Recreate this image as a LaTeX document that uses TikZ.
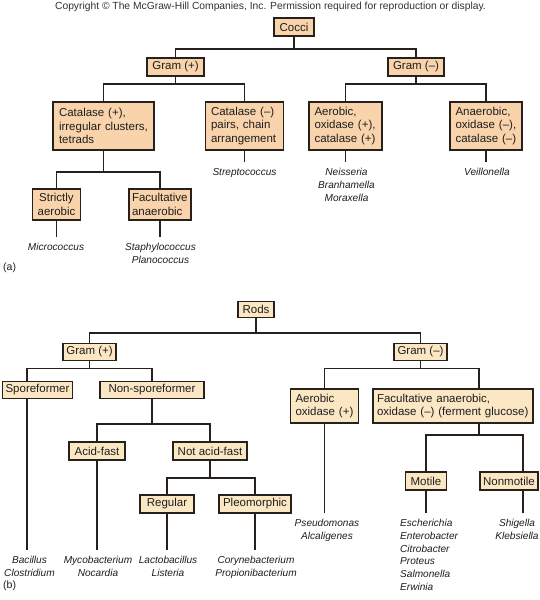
\documentclass[tikz,border=0pt]{standalone}
\usepackage{fontspec}
\setmainfont{Liberation Sans}
\definecolor{linec}{RGB}{40,32,26}
\definecolor{fillA}{RGB}{249,211,171}
\definecolor{fillB}{RGB}{252,231,197}
\definecolor{txtc}{RGB}{30,30,30}
\definecolor{cpc}{RGB}{50,50,50}
\newcommand{\bxfont}{\fontsize{11.5}{13.5}\selectfont}
\newcommand{\lffont}{\fontsize{10.1}{12.8}\selectfont\itshape}
\newcommand{\cpfont}{\fontsize{10.3}{12}\selectfont}
\newcommand{\lbfont}{\fontsize{10.5}{12}\selectfont}
\tikzset{
  ln/.style={draw=linec, line width=1.8pt},
  boxa/.style={draw=linec, line width=1.8pt, fill=fillA, font=\bxfont, text=txtc, inner xsep=5pt, inner ysep=2pt},
  boxb/.style={boxa, fill=fillB, inner xsep=3pt},
  lft/.style={align=left},
  leaf/.style={font=\lffont, text=txtc, align=center, inner xsep=0pt, inner ysep=6pt, anchor=north},
  partlbl/.style={font=\lbfont, text=txtc, anchor=west, inner sep=1pt}
}
\begin{document}
\begin{tikzpicture}[x=1pt,y=-1pt]
\useasboundingbox[fill=white] (0,0) rectangle (540,600);
\node[font=\cpfont, text=cpc, inner sep=0pt] (copy) at (270.5,7) {Copyright © The McGraw-Hill Companies, Inc. Permission required for reproduction or display.};

% ---------------- (a) Cocci ----------------
\node[boxa, minimum width=40pt, minimum height=18pt] (cocci) at (294,27) {Cocci};
\node[boxa, minimum width=53pt, minimum height=18pt] (gpa) at (175.5,67) {Gram (+)};
\node[boxa, minimum width=51pt, minimum height=18pt] (gma) at (416,67) {Gram (–)};
\node[boxa, lft, minimum width=101pt, minimum height=48pt, text width=89pt] (cp) at (103.5,126) {Catalase (+),\\irregular clusters,\\tetrads};
\node[boxa, lft, minimum width=78pt, minimum height=48pt, text width=67pt] (cm) at (244.5,126) {Catalase (–)\\pairs, chain\\arrangement};
\node[boxa, lft, minimum width=73pt, minimum height=48pt, text width=62pt] (aer) at (345.5,126) {Aerobic,\\oxidase (+),\\catalase (+)};
\node[boxa, lft, minimum width=72pt, minimum height=48pt, text width=61pt] (ana) at (486,126) {Anaerobic,\\oxidase (–),\\catalase (–)};
\node[boxa, align=center, minimum width=47pt, minimum height=31pt, text width=38pt] (sa) at (56.5,204.5) {Strictly\\aerobic};
\node[boxa, lft, minimum width=62pt, minimum height=31pt, text width=56pt, inner xsep=3pt] (fa) at (160,204.5) {Facultative\\anaerobic};

\node[leaf] (micro) at (56,237) {Micrococcus};
\node[leaf] (staph) at (160.5,237) {Staphylococcus\\Planococcus};
\node[leaf] (strep) at (244.5,162) {Streptococcus};
\node[leaf] (neis) at (346.5,162) {Neisseria\\Branhamella\\Moraxella};
\node[leaf] (veil) at (487,162) {Veillonella};
\node[partlbl] (pa) at (2,268) {(a)};

\coordinate (ya1) at (0,49);
\coordinate (ya2) at (0,84);
\coordinate (ya3) at (0,172);
\draw[ln] (cocci.south) -- (cocci.south |- ya1);
\draw[ln] (gpa.north) -- (gpa.north |- ya1) -- (gma.north |- ya1) -- (gma.north);
\draw[ln] (gpa.south) -- (gpa.south |- ya2);
\draw[ln] (cp.north) -- (cp.north |- ya2) -- (cm.north |- ya2) -- (cm.north);
\draw[ln] (gma.south) -- (gma.south |- ya2);
\draw[ln] (aer.north) -- (aer.north |- ya2) -- (ana.north |- ya2) -- (ana.north);
\draw[ln] (cp.south) -- (cp.south |- ya3);
\draw[ln] (sa.north) -- (sa.north |- ya3) -- (fa.north |- ya3) -- (fa.north);
\draw[ln] (sa.south) -- (sa.south |- micro.north);
\draw[ln] (fa.south) -- (fa.south |- staph.north);
\draw[ln] (cm.south) -- (cm.south |- strep.north);
\draw[ln] (aer.south) -- (aer.south |- neis.north);
\draw[ln] (ana.south) -- (ana.south |- veil.north);

% ---------------- (b) Rods ----------------
\node[boxb, minimum width=35.5pt, minimum height=16pt] (rods) at (256,309.5) {Rods};
\node[boxb, minimum width=52pt, minimum height=17pt] (gpb) at (89.5,352) {Gram (+)};
\node[boxb, minimum width=53pt, minimum height=17pt] (gmb) at (420.5,352) {Gram (–)};
\node[boxb, minimum width=69pt, minimum height=17pt] (spore) at (37.5,390) {Sporeformer};
\node[boxb, minimum width=104pt, minimum height=17pt] (nonspore) at (152,390) {Non-sporeformer};
\node[boxb, lft, minimum width=67pt, minimum height=34pt, text width=58pt, inner xsep=5pt] (aerb) at (324.5,406) {Aerobic\\oxidase (+)};
\node[boxb, lft, minimum width=160pt, minimum height=34pt, text width=152pt, inner xsep=3.5pt] (facb) at (453,406) {Facultative anaerobic,\\oxidase (–) (ferment glucose)};
\node[boxb, minimum width=56pt, minimum height=18pt] (acid) at (97,451) {Acid-fast};
\node[boxb, minimum width=74.5pt, minimum height=18pt] (notacid) at (210,451) {Not acid-fast};
\node[boxb, minimum width=54pt, minimum height=18pt] (regular) at (167,504) {Regular};
\node[boxb, minimum width=72pt, minimum height=18pt] (pleo) at (255,504) {Pleomorphic};
\node[boxb, minimum width=41pt, minimum height=18pt] (motile) at (426,481) {Motile};
\node[boxb, minimum width=55.5pt, minimum height=18pt] (nonmotile) at (509,481) {Nonmotile};

\node[leaf] (bacil) at (29.5,550) {Bacillus\\Clostridium};
\node[leaf] (myco) at (98,550) {Mycobacterium\\Nocardia};
\node[leaf] (lacto) at (168,550) {Lactobacillus\\Listeria};
\node[leaf] (coryne) at (256,550) {Corynebacterium\\Propionibacterium};
\node[leaf] (pseudo) at (327,513) {Pseudomonas\\Alcaligenes};
\node[leaf, align=left, anchor=north west] (esch) at (400,513) {Escherichia\\Enterobacter\\Citrobacter\\Proteus\\Salmonella\\Erwinia};
\node[leaf] (shig) at (517,513) {Shigella\\Klebsiella};
\node[partlbl] (pb) at (2,586) {(b)};

\coordinate (yb1) at (0,333);
\coordinate (yb2) at (0,368.5);
\coordinate (spx) at (26.6,368.5);
\coordinate (fcx) at (479,435);
\coordinate (nmx) at (523,435);
\coordinate (yb3) at (0,424);
\coordinate (yb4) at (0,478);
\draw[ln] (rods.south) -- (rods.south |- yb1);
\draw[ln] (gpb.north) -- (gpb.north |- yb1) -- (gmb.north |- yb1) -- (gmb.north);
\draw[ln] (gpb.south) -- (gpb.south |- yb2);
\draw[ln] (spx |- spore.north) -- (spx) -- (nonspore.north |- yb2) -- (nonspore.north);
\draw[ln] (spx |- spore.south) -- (spx |- bacil.north);
\draw[ln] (gmb.south) -- (gmb.south |- yb2);
\draw[ln] (aerb.north) -- (aerb.north |- yb2) -- (fcx |- yb2) -- (fcx |- facb.north);
\draw[ln] (aerb.south) -- (aerb.south |- pseudo.north);
\draw[ln] (fcx |- facb.south) -- (fcx);
\draw[ln] (motile.north) -- (motile.north |- fcx) -- (nmx) -- (nmx |- nonmotile.north);
\draw[ln] (motile.south) -- (motile.south |- esch.north);
\draw[ln] (nmx |- nonmotile.south) -- (nmx |- shig.north);
\draw[ln] (nonspore.south) -- (nonspore.south |- yb3);
\draw[ln] (acid.north) -- (acid.north |- yb3) -- (notacid.north |- yb3) -- (notacid.north);
\draw[ln] (acid.south) -- (acid.south |- myco.north);
\draw[ln] (notacid.south) -- (notacid.south |- yb4);
\draw[ln] (regular.north) -- (regular.north |- yb4) -- (pleo.north |- yb4) -- (pleo.north);
\draw[ln] (regular.south) -- (regular.south |- lacto.north);
\draw[ln] (pleo.south) -- (pleo.south |- coryne.north);
\end{tikzpicture}
\end{document}
